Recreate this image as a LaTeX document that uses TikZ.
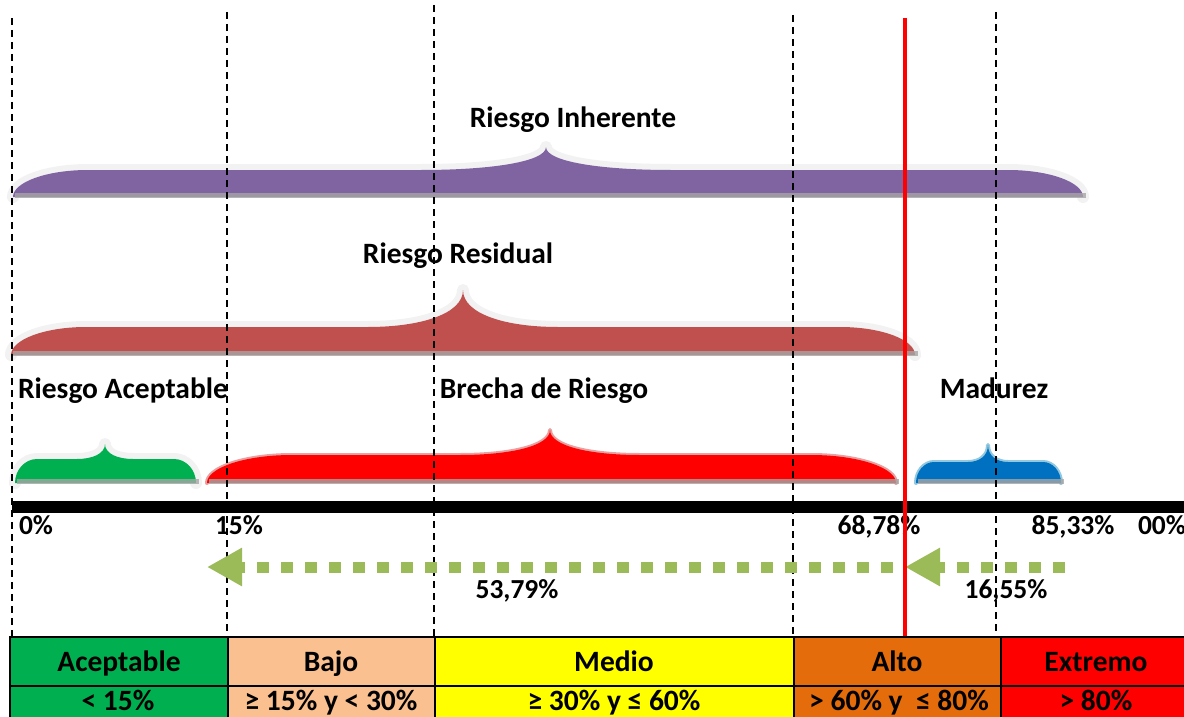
\documentclass[tikz,border=0pt]{standalone}
\usepackage{fontspec}
\setmainfont{Carlito}
\usetikzlibrary{arrows.meta}
\definecolor{cpurple}{HTML}{8064A2}
\definecolor{cresid}{HTML}{C0504D}
\definecolor{cgreen}{HTML}{00B050}
\definecolor{cred}{HTML}{FF0000}
\definecolor{cblue}{HTML}{0070C0}
\definecolor{carrow}{HTML}{9BBB59}
\definecolor{cpeach}{HTML}{FAC090}
\definecolor{corange}{HTML}{E46C0A}
\definecolor{cyellow}{HTML}{FFFF00}
\definecolor{coutl}{HTML}{F2F2F2}
\definecolor{cpink}{HTML}{E8A0A0}
\definecolor{clblue}{HTML}{92C8E0}
\definecolor{cband}{HTML}{A6A6A6}
\tikzset{
  lbl/.style={font=\fontsize{29.5}{34}\selectfont\bfseries, inner sep=0pt, anchor=base},
  num/.style={font=\fontsize{27.5}{32}\selectfont\bfseries, inner sep=0pt, anchor=base},
  tlbl/.style={font=\fontsize{29.5}{34}\selectfont\bfseries, inner sep=0pt, anchor=base},
  vdash/.style={draw=black, line width=1.4pt, dash pattern=on 7pt off 5pt},
  cell/.style={draw=black, line width=1.8pt, anchor=north west, inner sep=0pt, outer sep=0pt, minimum height=49pt},
  garrow/.style={draw=carrow, line width=11pt, dash pattern=on 12pt off 12pt, -{Triangle[length=35pt,width=36pt]}},
  bfill/.style={},
  bline/.style={draw=coutl, line width=12pt},
  band/.style={fill=cband, opacity=0.8}
}
% #2 x1, #3 x2, #4 xpeak, #5 ybase, #6 ytop, #7 ypeak, #8 end radius, #9 peak spread
\newcommand\riskbrace[9][]{%
  \def\toppath{(#2,#5) .. controls (#2,{#6+0.45*(#5-#6)}) and ({#2+0.45*#8},#6) .. ({#2+#8},#6)
    -- ({#4-#9},#6) .. controls ({#4-0.45*#9},#6) and (#4,{#6-0.35*(#6-#7)}) .. (#4,#7)
    .. controls (#4,{#6-0.35*(#6-#7)}) and ({#4+0.45*#9},#6) .. ({#4+#9},#6)
    -- ({#3-#8},#6) .. controls ({#3-0.45*#8},#6) and (#3,{#6+0.45*(#5-#6)}) .. (#3,#5)}%
  \begin{scope}[#1]
    \path[bline, line join=round, line cap=round] \toppath;
    \path[bfill] \toppath -- cycle;
    \path[band] ({#2+2},{#5-4}) rectangle ({#3+3},{#5+1});
  \end{scope}%
}
\begin{document}
\begin{tikzpicture}[x=1pt,y=-1pt]
\useasboundingbox (0,0) rectangle (1184,717);
\clip (0,0) rectangle (1184,717);

% braces
\riskbrace[bfill/.style={fill=cpurple}]{13}{1083}{546}{197}{170}{147}{75}{125}
\riskbrace[bfill/.style={fill=cresid}]{11}{915}{463}{355}{327}{290}{75}{95}
\riskbrace[bfill/.style={fill=cgreen}]{15}{196}{105}{483}{459}{444}{22}{28}
\riskbrace[bfill/.style={fill=cred}, bline/.style={draw=cpink, line width=4pt}]{207}{896}{550}{483}{455}{430}{85}{90}
\riskbrace[bfill/.style={fill=cblue}, bline/.style={draw=clblue, line width=4pt}]{916}{1061}{988}{483}{462}{445}{18}{20}

% labels of braces
\node[lbl] (tinh) at (573,128) {Riesgo Inherente};
\node[lbl] (tres) at (458,263) {Riesgo Residual};
\node[lbl] (tacep) at (123,398) {Riesgo Aceptable};
\node[lbl] (tbre) at (544,398) {Brecha de Riesgo};
\node[lbl] (tmad) at (994,398) {Madurez};

% axis
\coordinate (axl) at (12,507);
\coordinate (axr) at (1190,507);
\draw[line width=12pt, black] (axl) -- (axr);

% vertical dashed lines
\coordinate (v1t) at (12,18);   \coordinate (v1b) at (12,637);
\coordinate (v2t) at (227,12);  \coordinate (v2b) at (227,637);
\coordinate (v3t) at (434,5);   \coordinate (v3b) at (434,637);
\coordinate (v4t) at (793,15);  \coordinate (v4b) at (793,637);
\coordinate (v5t) at (996,12);  \coordinate (v5b) at (996,637);
\draw[vdash] (v1t) -- (v1b);
\draw[vdash] (v2t) -- (v2b);
\draw[vdash] (v3t) -- (v3b);
\draw[vdash] (v4t) -- (v4b);
\draw[vdash] (v5t) -- (v5b);

% axis labels
\node[num] (p0) at (36,534) {0\%};
\node[num] (p15) at (239,534) {15\%};
\node[num] (p68) at (879,534) {68,78\%};
\node[num] (p85) at (1073,534) {85,33\%};
\node[num] (p100) at (1162,534) {00\%};

% green dotted arrows
\coordinate (a1s) at (1065,567);
\coordinate (a1e) at (905,567);
\coordinate (a2s) at (893,567);
\coordinate (a2e) at (207,567);
\draw[garrow] (a1s) -- (a1e);
\draw[garrow] (a2s) -- (a2e);
\node[num] (d1) at (517,598) {53,79\%};
\node[num] (d2) at (1006,598) {16,55\%};

% red line
\coordinate (rt) at (905,18);
\coordinate (rb) at (905,640);
\draw[cred, line width=3.5pt] (rt) -- (rb);

% table
\node[cell, fill=cgreen, minimum width=218pt] (h1) at (10,637) {};
\node[cell, fill=cpeach, minimum width=207pt] (h2) at (228,637) {};
\node[cell, fill=cyellow, minimum width=359pt] (h3) at (435,637) {};
\node[cell, fill=corange, minimum width=207pt] (h4) at (794,637) {};
\node[cell, fill=cred, minimum width=200pt] (h5) at (1001,637) {};
\node[cell, fill=cgreen, minimum width=218pt] (r1) at (10,686) {};
\node[cell, fill=cpeach, minimum width=207pt] (r2) at (228,686) {};
\node[cell, fill=cyellow, minimum width=359pt] (r3) at (435,686) {};
\node[cell, fill=corange, minimum width=207pt] (r4) at (794,686) {};
\node[cell, fill=cred, minimum width=200pt] (r5) at (1001,686) {};
\node[tlbl] (t1) at (119,671) {Aceptable};
\node[tlbl] (t2) at (331,671) {Bajo};
\node[tlbl] (t3) at (614,671) {Medio};
\node[tlbl] (t4) at (897,671) {Alto};
\node[tlbl] (t5) at (1096,671) {Extremo};
\node[tlbl] (u1) at (118,710) {< 15\%};
\node[tlbl] (u2) at (331,710) {≥ 15\% y < 30\%};
\node[tlbl] (u3) at (614,710) {≥ 30\% y ≤ 60\%};
\node[tlbl] (u4) at (899,710) {> 60\% y \ ≤ 80\%};
\node[tlbl] (u5) at (1096,710) {> 80\%};
\end{tikzpicture}
\end{document}
